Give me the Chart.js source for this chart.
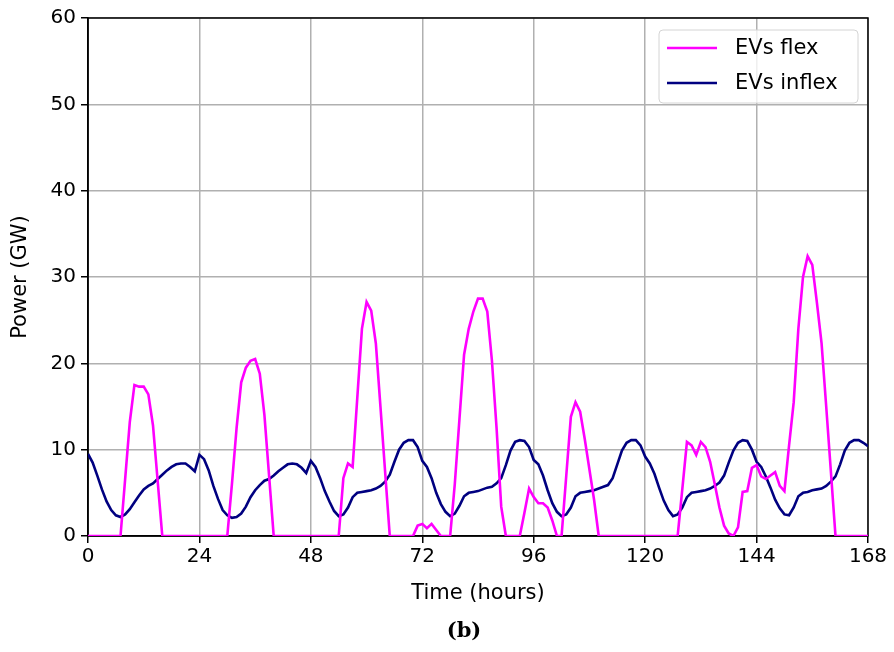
<!DOCTYPE html>
<html>
<head>
<meta charset="utf-8">
<script src="https://cdn.jsdelivr.net/npm/chart.js@4.4.0/dist/chart.umd.min.js"></script>
<style>
  body { margin: 0; background: #fff; }
</style>
</head>
<body>
<canvas id="graficoEVs" width="894" height="652"></canvas>
<script>
let horas = Array.from({length: 169}, (_, i) => i)

// carga flexible por hora (GW)
let evsFlex = [
  0, 0, 0, 0, 0, 0, 0, 0, 6.6, 13.2, 17.5, 17.3, 17.3, 16.4, 12.8, 6.4, 0, 0, 0, 0, 0, 0, 0, 0,
  0, 0, 0, 0, 0, 0, 0, 6.0, 12.5, 17.8, 19.5, 20.3, 20.5, 18.8, 14.0, 7.0, 0, 0, 0, 0, 0, 0, 0, 0,
  0, 0, 0, 0, 0, 0, 0, 6.7, 8.4, 8.0, 16.0, 24.0, 27.1, 26.1, 22.3, 14.9, 7.4, 0, 0, 0, 0, 0, 0, 1.2,
  1.4, 0.9, 1.4, 0.7, 0, 0, 0, 6.0, 13.5, 21.0, 24.0, 26.0, 27.5, 27.5, 26.0, 20.3, 12.5, 3.4, 0, 0, 0, 0, 2.7, 5.5,
  4.5, 3.8, 3.8, 3.3, 1.8, 0, 0, 6.9, 13.8, 15.5, 14.4, 11.2, 7.7, 4.2, 0, 0, 0, 0, 0, 0, 0, 0, 0, 0,
  0, 0, 0, 0, 0, 0, 0, 0, 5.4, 10.9, 10.5, 9.4, 10.9, 10.3, 8.6, 6.0, 3.3, 1.2, 0.3, 0, 1.0, 5.1, 5.2, 7.9,
  8.2, 6.9, 6.6, 7.0, 7.4, 5.8, 5.2, 10.5, 15.5, 24.0, 30.0, 32.4, 31.4, 27.0, 22.3, 15.0, 7.5, 0, 0, 0, 0, 0, 0, 0, 0
]

// carga no flexible por hora (GW)
let evsInflex = [
  9.5, 8.5, 7.0, 5.4, 4.0, 3.0, 2.4, 2.2, 2.5, 3.1, 3.9, 4.7, 5.4, 5.8, 6.1, 6.6, 7.1, 7.6, 8.0, 8.3, 8.4, 8.4, 8.0, 7.5,
  9.4, 8.9, 7.6, 5.8, 4.3, 3.0, 2.4, 2.1, 2.2, 2.6, 3.4, 4.5, 5.3, 5.9, 6.4, 6.6, 7.0, 7.5, 7.9, 8.3, 8.4, 8.3, 7.9, 7.3,
  8.7, 8.0, 6.7, 5.2, 4.0, 2.9, 2.3, 2.5, 3.3, 4.5, 5.0, 5.1, 5.2, 5.3, 5.5, 5.8, 6.3, 7.1, 8.6, 10.0, 10.8, 11.1, 11.1, 10.3,
  8.7, 8.0, 6.7, 5.0, 3.7, 2.8, 2.3, 2.6, 3.5, 4.6, 5.0, 5.1, 5.2, 5.4, 5.6, 5.7, 6.1, 6.7, 8.2, 9.9, 10.9, 11.1, 11.0, 10.3,
  8.8, 8.3, 7.0, 5.3, 3.8, 2.8, 2.3, 2.5, 3.3, 4.6, 5.0, 5.1, 5.2, 5.3, 5.5, 5.7, 5.9, 6.7, 8.3, 9.9, 10.8, 11.1, 11.1, 10.5,
  9.2, 8.4, 7.2, 5.6, 4.1, 3.0, 2.3, 2.5, 3.3, 4.5, 5.0, 5.1, 5.2, 5.3, 5.5, 5.8, 6.2, 7.0, 8.5, 9.9, 10.8, 11.1, 11.0, 10.0,
  8.6, 8.0, 6.9, 5.6, 4.2, 3.2, 2.5, 2.4, 3.3, 4.6, 5.0, 5.1, 5.3, 5.4, 5.5, 5.8, 6.3, 6.9, 8.3, 9.9, 10.8, 11.1, 11.1, 10.8, 10.4
]

let ticksX = [0, 24, 48, 72, 96, 120, 144, 168]
let ticksY = [0, 10, 20, 30, 40, 50, 60]

let colorFlex = '#ff00ff'
let colorInflex = '#000080'

// marco superior/derecho, leyenda y la etiqueta "(b)"
let extras = {
  id: 'extras',
  beforeDatasetsDraw(chart) {
    let {ctx, chartArea: a} = chart
    ctx.save()
    ctx.strokeStyle = 'black'
    ctx.lineWidth = 1.5
    ctx.strokeRect(a.left, a.top, a.right - a.left, a.bottom - a.top)
    ctx.restore()
  },
  afterDraw(chart) {
    let ctx = chart.ctx
    ctx.save()
    // leyenda
    let x = 659, y = 30, w = 199, h = 73, r = 4
    ctx.beginPath()
    ctx.roundRect(x, y, w, h, r)
    ctx.fillStyle = 'rgba(255,255,255,0.8)'
    ctx.fill()
    ctx.strokeStyle = '#d4d4d4'
    ctx.lineWidth = 1
    ctx.stroke()
    ctx.font = '21px "DejaVu Sans"'
    ctx.textBaseline = 'middle'
    chart.data.datasets.forEach((ds, i) => {
      let ly = 48 + i * 35
      ctx.strokeStyle = ds.borderColor
      ctx.lineWidth = 2.5
      ctx.beginPath()
      ctx.moveTo(667, ly)
      ctx.lineTo(717, ly)
      ctx.stroke()
      ctx.fillStyle = 'black'
      ctx.fillText(ds.label, 735, ly + 1)
    })
    // subtitulo
    ctx.font = 'bold 21px "DejaVu Serif"'
    ctx.textAlign = 'center'
    ctx.fillText('(b)', 464, 632)
    ctx.restore()
  }
}

let grafico = new Chart(document.getElementById('graficoEVs'), {
  type: 'line',
  data: {
    labels: horas,
    datasets: [{
      label: 'EVs flex',
      data: horas.map((h, i) => ({x: h, y: evsFlex[i]})),
      borderColor: colorFlex,
      borderWidth: 2.6,
      pointRadius: 0,
      tension: 0
    }, {
      label: 'EVs inflex',
      data: horas.map((h, i) => ({x: h, y: evsInflex[i]})),
      borderColor: colorInflex,
      borderWidth: 2.6,
      pointRadius: 0,
      tension: 0
    }]
  },
  options: {
    responsive: false,
    animation: false,
    devicePixelRatio: 1,
    layout: {padding: {top: 18, right: 26, left: 0, bottom: 0}},
    plugins: {
      legend: {display: false},
      tooltip: {enabled: false}
    },
    scales: {
      x: {
        type: 'linear',
        min: 0,
        max: 168,
        afterBuildTicks: s => { s.ticks = ticksX.map(v => ({value: v})) },
        afterFit: s => { s.height = 116 },
        ticks: {color: 'black', font: {family: 'DejaVu Sans', size: 20}, padding: 2},
        grid: {color: '#b0b0b0', lineWidth: 1.5, tickLength: 7, tickColor: 'black', tickWidth: 1.5},
        border: {color: 'black', width: 1.5},
        title: {
          display: true,
          text: 'Time (hours)',
          color: 'black',
          font: {family: 'DejaVu Sans', size: 21},
          padding: {bottom: 46}
        }
      },
      y: {
        min: 0,
        max: 60,
        afterBuildTicks: s => { s.ticks = ticksY.map(v => ({value: v})) },
        afterFit: s => { s.width = 88 },
        ticks: {color: 'black', font: {family: 'DejaVu Sans', size: 20}, padding: 5},
        grid: {color: '#b0b0b0', lineWidth: 1.5, tickLength: 7, tickColor: 'black', tickWidth: 1.5},
        border: {color: 'black', width: 1.5},
        title: {
          display: true,
          text: 'Power (GW)',
          color: 'black',
          font: {family: 'DejaVu Sans', size: 21},
          padding: {top: 8}
        }
      }
    }
  },
  plugins: [extras]
})
</script>
</body>
</html>
